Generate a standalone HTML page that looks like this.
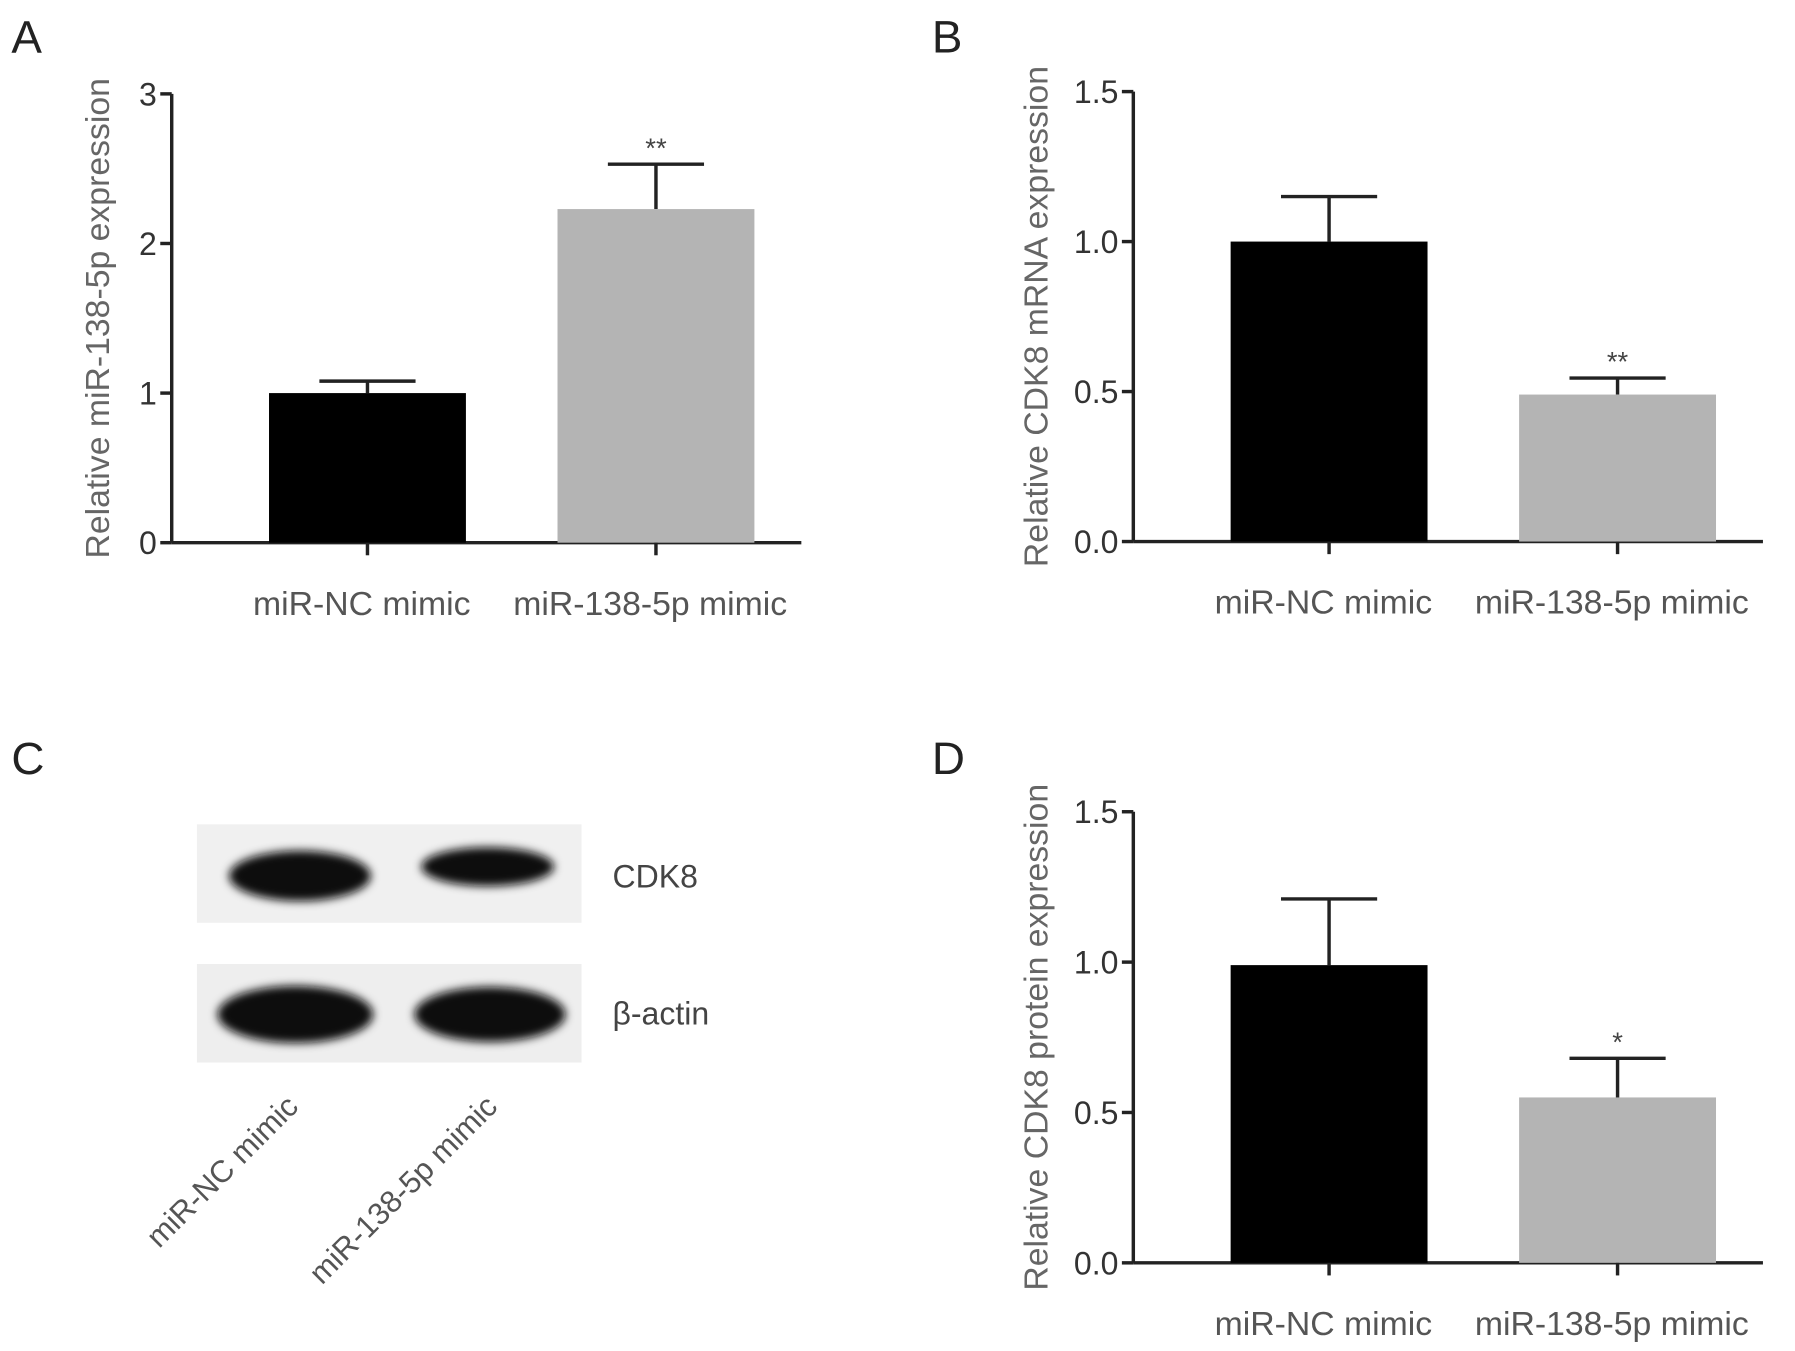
<!DOCTYPE html>
<html><head><meta charset="utf-8"><style>
html,body{margin:0;padding:0;background:#fff;}
svg{display:block;font-family:"Liberation Sans",sans-serif;}
</style></head><body>
<svg id="fig" width="1795" height="1351" viewBox="0 0 1568 1180" preserveAspectRatio="none" xmlns="http://www.w3.org/2000/svg">
<defs><filter id="blur" x="-20%" y="-50%" width="140%" height="200%"><feGaussianBlur stdDeviation="4"/></filter></defs>
<rect width="1568" height="1180" fill="#fff"/>
<g id="chartA"></g>
<g id="chartB"></g>
<g id="chartD"></g>
<text x="10" y="46" font-size="40" fill="#222">A</text>
<text x="814" y="46" font-size="40" fill="#222">B</text>
<text x="10" y="676" font-size="40" fill="#222">C</text>
<text x="814" y="676" font-size="40" fill="#222">D</text>
<g>
<rect x="172" y="720" width="336" height="86" fill="#f0f0f0"/>
<rect x="172" y="842" width="336" height="86" fill="#eeeeee"/>
<ellipse cx="262" cy="765" rx="62" ry="22" fill="#111" filter="url(#blur)"/>
<ellipse cx="426" cy="757" rx="58" ry="17" fill="#111" filter="url(#blur)"/>
<ellipse cx="258" cy="886" rx="68" ry="25" fill="#0a0a0a" filter="url(#blur)"/>
<ellipse cx="428" cy="886" rx="66" ry="24" fill="#0a0a0a" filter="url(#blur)"/>
<text x="535" y="775" font-size="28" fill="#444">CDK8</text>
<text x="535" y="895" font-size="28" fill="#444">β-actin</text>
<text transform="translate(262,968) rotate(-45)" text-anchor="end" font-size="27" fill="#555">miR-NC mimic</text>
<text transform="translate(436,968) rotate(-45)" text-anchor="end" font-size="27" fill="#555">miR-138-5p mimic</text>
</g>
</svg>
<script>
const categories = ["miR-NC mimic", "miR-138-5p mimic"];
const valuesA = [1.0, 2.23];
const errorsA = [0.08, 0.30];
const ticksA = ["0", "1", "2", "3"];
const sigA = ["", "**"];
const valuesB = [1.0, 0.49];
const errorsB = [0.15, 0.055];
const ticksB = ["0.0", "0.5", "1.0", "1.5"];
const sigB = ["", "**"];
const valuesD = [0.99, 0.55];
const errorsD = [0.22, 0.13];
const ticksD = ["0.0", "0.5", "1.0", "1.5"];
const sigD = ["", "*"];
const colors = ["#000000", "#b4b4b4"];
const NS = "http://www.w3.org/2000/svg";
function mk(g, tag, attrs) {
  const e = document.createElementNS(NS, tag);
  for (const k in attrs) e.setAttribute(k, attrs[k]);
  g.appendChild(e); return e;
}
function draw(id, cfg, vals, errs, ticks, sig) {
  const g = document.getElementById(id);
  const maxV = parseFloat(ticks[ticks.length - 1]);
  const y = v => cfg.y0 - (v / maxV) * (cfg.y0 - cfg.yTop);
  const centers = [cfg.ax + 171, cfg.ax + 423];
  const bw = 172;
  let l = mk(g, "line", {x1: cfg.ax, y1: cfg.yTop, x2: cfg.ax, y2: cfg.y0, stroke: "#222", "stroke-width": 3});
  
  
  l = mk(g, "line", {x1: cfg.ax, y1: cfg.y0, x2: cfg.ax + 550, y2: cfg.y0, stroke: "#222", "stroke-width": 3});
  
  
  ticks.forEach(t => {
    const ty = y(parseFloat(t));
    const tk = mk(g, "line", {x1: cfg.ax - 10, y1: ty, x2: cfg.ax, y2: ty, stroke: "#222", "stroke-width": 3});
    
    
    const tx = mk(g, "text", {x: cfg.ax - 13, y: ty + 10, "text-anchor": "end", "font-size": 28, fill: "#333"});
    tx.textContent = t;
    
    
  });
  vals.forEach((v, i) => {
    const cx = centers[i];
    const top = y(v + errs[i]);
    const eb = mk(g, "path", {d: `M${cx},${y(v)} L${cx},${top} M${cx - 42},${top} L${cx + 42},${top}`, stroke: "#222", "stroke-width": 3, fill: "none"});
    
    
    const r = mk(g, "rect", {x: cx - bw / 2, y: y(v), width: bw, height: cfg.y0 - y(v), fill: colors[i]});
    
    
    const xt = mk(g, "line", {x1: cx, y1: cfg.y0, x2: cx, y2: cfg.y0 + 11, stroke: "#222", "stroke-width": 3});
    
    
    const lb = mk(g, "text", {x: cx - 5, y: cfg.y0 + 63, "text-anchor": "middle", "font-size": 29.5, fill: "#555"});
    lb.textContent = categories[i];
    
    
    if (sig[i]) {
      const s = mk(g, "text", {x: cx, y: top - 6, "text-anchor": "middle", "font-size": 24, fill: "#444"});
      s.textContent = sig[i];
      
      
    }
  });
  const yl = mk(g, "text", {transform: `translate(${cfg.lx},${(cfg.yTop + cfg.y0) / 2}) rotate(-90)`, "text-anchor": "middle", "font-size": 29.5, fill: "#666"});
  yl.textContent = cfg.title;
  
  
}
draw("chartA", {ax: 150, y0: 474, yTop: 82, lx: 95, title: "Relative miR-138-5p expression"}, valuesA, errorsA, ticksA, sigA);
draw("chartB", {ax: 990, y0: 473, yTop: 80, lx: 915, title: "Relative CDK8 mRNA expression"}, valuesB, errorsB, ticksB, sigB);
draw("chartD", {ax: 990, y0: 1103, yTop: 709, lx: 915, title: "Relative CDK8 protein expression"}, valuesD, errorsD, ticksD, sigD);
</script>
</body></html>
